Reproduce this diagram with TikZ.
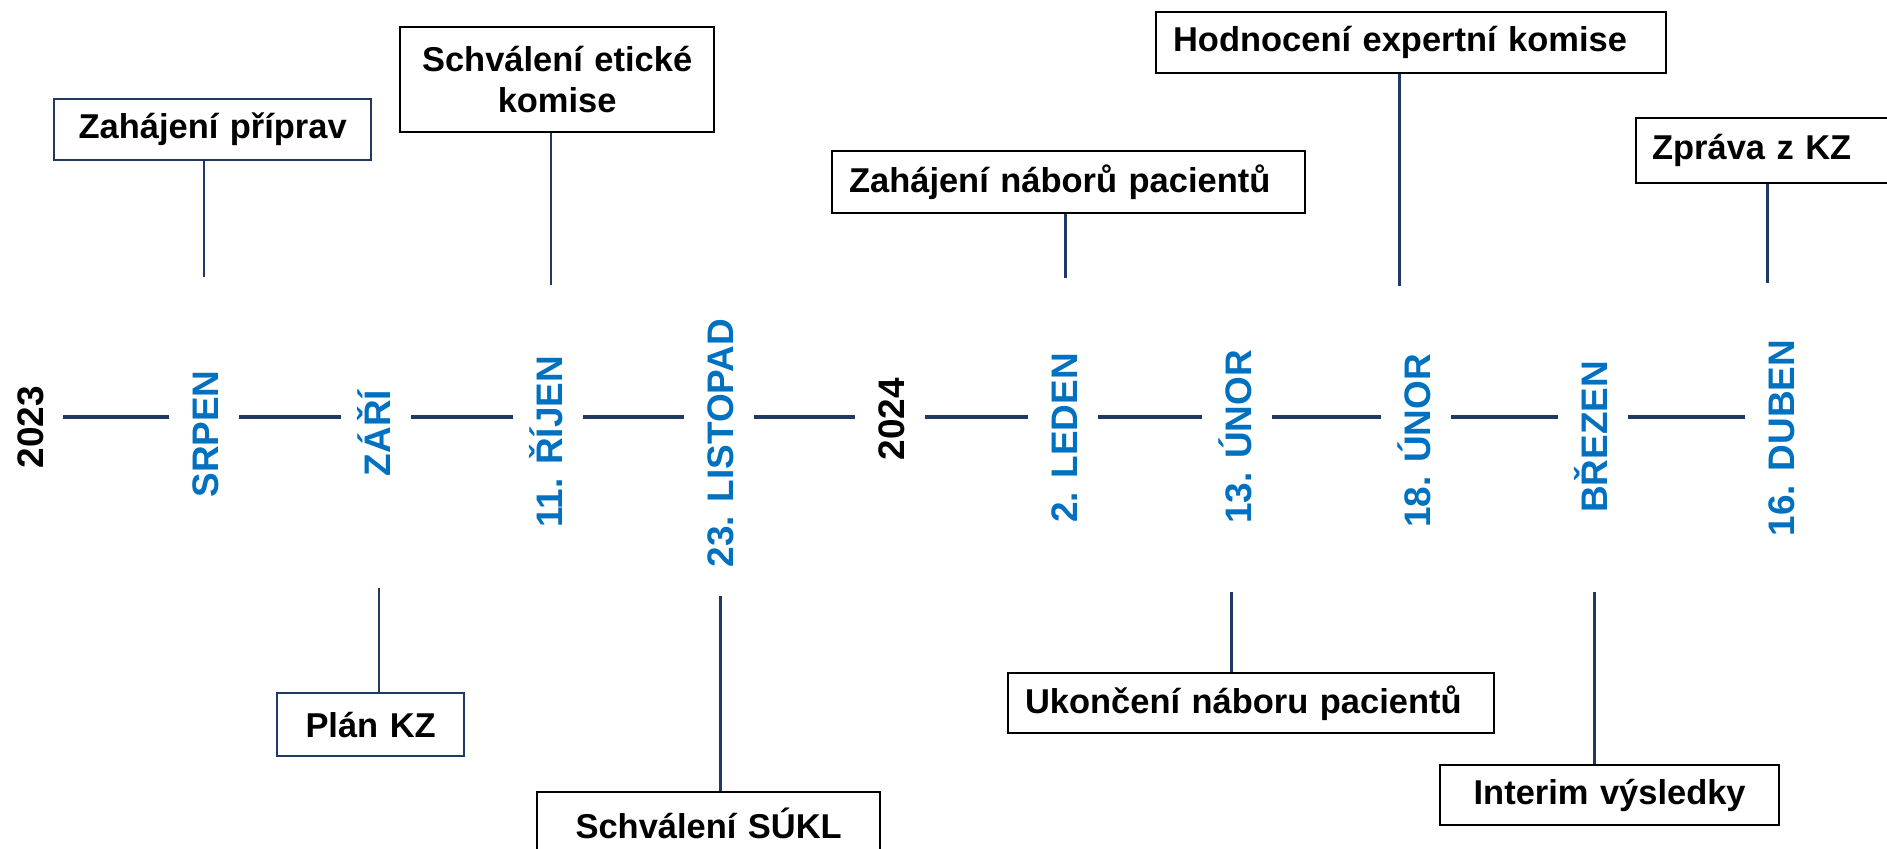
\documentclass[tikz,border=0pt]{standalone}
\usepackage{fontspec}
\setmainfont{Liberation Sans}
\definecolor{tmavemodra}{HTML}{1F3864}
\definecolor{modra}{HTML}{0070C0}
\tikzset{
  osa/.style={line width=1pt, draw=tmavemodra, shorten <=0.35cm, shorten >=0.35cm},
  spoj/.style={line width=0.85pt, draw=tmavemodra},
  krabice/.style={draw=black, line width=0.6pt, fill=white, anchor=north west,
    inner xsep=0.17cm, inner ysep=0pt, font=\fontsize{9.8}{11.8}\selectfont\bfseries},
  mesic/.style={rotate=90, anchor=base, inner sep=0pt, text=modra,
    font=\fontsize{10.5}{12.6}\selectfont\bfseries},
  rok/.style={mesic, text=black},
}
\begin{document}
\begin{tikzpicture}[x=0.01cm, y=-0.01cm]
	\useasboundingbox (0,0) rectangle (1887,848);
	%časová osa
	\foreach \n/\x in {1/28, 2/204, 3/376, 4/548, 5/719, 6/890, 7/1063, 8/1237, 9/1416, 10/1593, 11/1780}
	\coordinate (t\n) at (\x,417);
	\node[rok] (l1) at (43,427) {2023};
	\node[mesic] (l2) at (218,434) {SRPEN};
	\node[mesic] (l3) at (390,433) {ZÁŘÍ};
	\node[mesic] (l4) at (562,442) {11. ŘÍJEN};
	\node[mesic] (l5) at (733,443) {23. LISTOPAD};
	\node[rok] (l6) at (904,419) {2024};
	\node[mesic] (l7) at (1077,438) {2. LEDEN};
	\node[mesic] (l8) at (1251,437) {13. ÚNOR};
	\node[mesic] (l9) at (1430,441) {18. ÚNOR};
	\node[mesic] (l10) at (1607,437) {BŘEZEN};
	\node[mesic] (l11) at (1794,438) {16. DUBEN};
	\foreach \a/\b in {1/2, 2/3, 3/4, 4/5, 5/6, 6/7, 7/8, 8/9, 9/10, 10/11}
	\draw[osa] (t\a) -- (t\b);
	%události nahoře
	\node[krabice, draw=tmavemodra, minimum height=0.61cm, text width=2.83cm, align=center]
	(zp) at (53,98) {Zahájení příprav};
	\node[krabice, minimum height=1.05cm, text width=2.80cm, align=center]
	(sek) at (399,26) {Schválení etické\\komise};
	\node[krabice, minimum height=0.62cm, text width=4.39cm, align=left]
	(znp) at (831,150) {Zahájení náborů pacientů};
	\node[krabice, minimum height=0.61cm, text width=4.76cm, align=left]
	(hek) at (1155,11) {Hodnocení expertní komise};
	\node[krabice, inner xsep=0.16cm, minimum height=0.65cm, text width=2.38cm, align=left]
	(zkz) at (1635,117) {Zpráva z KZ};
	%události dole
	\node[krabice, draw=tmavemodra, minimum height=0.63cm, text width=1.53cm, align=center]
	(plan) at (276,692) {Plán KZ};
	\node[krabice, minimum height=0.62cm, text width=3.09cm, align=center]
	(sukl) at (536,791) {Schválení SÚKL};
	\node[krabice, minimum height=0.60cm, text width=4.52cm, align=left]
	(unp) at (1007,672) {Ukončení náboru pacientů};
	\node[krabice, minimum height=0.60cm, text width=3.05cm, align=center]
	(iv) at (1439,764) {Interim výsledky};
	%spojnice
	\coordinate (k1) at (204,277);
	\coordinate (k2) at (551,285);
	\coordinate (k3) at (379,588);
	\coordinate (k4) at (720,596);
	\coordinate (k5) at (1065,278);
	\coordinate (k6) at (1399,286);
	\coordinate (k7) at (1767,283);
	\coordinate (k8) at (1231,592);
	\coordinate (k9) at (1594,592);
	\draw[spoj] (zp.south -| k1) -- (k1);
	\draw[spoj] (sek.south -| k2) -- (k2);
	\draw[spoj] (znp.south -| k5) -- (k5);
	\draw[spoj] (hek.south -| k6) -- (k6);
	\draw[spoj] (zkz.south -| k7) -- (k7);
	\draw[spoj] (k3) -- (k3 |- plan.north);
	\draw[spoj] (k4) -- (k4 |- sukl.north);
	\draw[spoj] (k8) -- (k8 |- unp.north);
	\draw[spoj] (k9) -- (k9 |- iv.north);
\end{tikzpicture}
\end{document}
